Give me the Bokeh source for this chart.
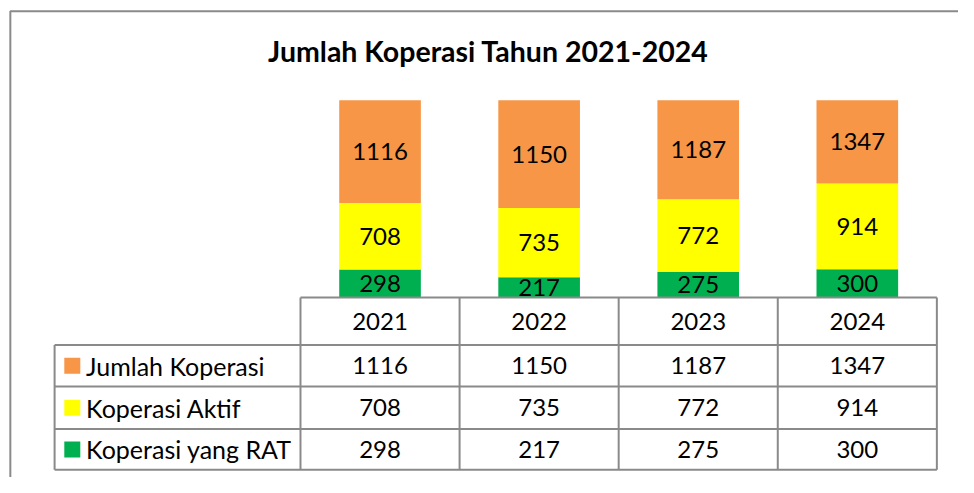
import numpy as np
from bokeh.plotting import figure
from bokeh.models import Range1d, ColumnDataSource
from bokeh.core.properties import value
from bokeh.embed import file_html
from bokeh.resources import INLINE

# ---- data ----
title_text = "Jumlah Koperasi Tahun 2021-2024"
years = ["2021", "2022", "2023", "2024"]
series_names = ["Jumlah Koperasi", "Koperasi Aktif", "Koperasi yang RAT"]
jumlah_koperasi = [1116, 1150, 1187, 1347]
koperasi_aktif = [708, 735, 772, 914]
koperasi_rat = [298, 217, 275, 300]
colors = ["#F79646", "#FFFF00", "#00B050"]   # jumlah, aktif, rat

# ---- layout (designed on a 974x493 sheet, scaled to the canvas) ----
W, H = 958, 477
SX, SY = W / 974, H / 493
FONT = value("Lato")
GRAY = "#8a8a8a"
COL_L, COL_R = 305, 952          # data columns of table / bar area
LEG_L = 55                        # left edge of legend column
PLOT_TOP, PLOT_BASE = 103, 307    # bar area (value axis top / zero)
ROWS = [307, 356, 399, 443, 485]  # table rules
Y_MAX = 2100                      # value axis clipped at top

n = len(years)
U = (COL_R - COL_L) * SX / n      # canvas px per category
x0_canvas = COL_L * SX + U / 2
xs = -x0_canvas / U
xe = xs + W / U
k = Y_MAX / ((PLOT_BASE - PLOT_TOP) * SY)
base_c = PLOT_BASE * SY
top_c = PLOT_TOP * SY

p = figure(width=W, height=H, output_backend="svg", toolbar_location=None,
           x_range=Range1d(xs, xe), y_range=Range1d(-(H - base_c) * k, Y_MAX + top_c * k),
           x_axis_location=None, y_axis_location=None, min_border=0)
p.extra_x_ranges = {"px": Range1d(0, 974)}
p.extra_y_ranges = {"px": Range1d(493, 0)}
p.grid.visible = False
p.outline_line_color = None
p.background_fill_color = "white"
p.border_fill_color = "white"

# ---- stacked bars (bottom -> top: RAT, Aktif, Jumlah) ----
xi = np.arange(n)
stack = [np.array(koperasi_rat), np.array(koperasi_aktif), np.array(jumlah_koperasi)]
stack_colors = [colors[2], colors[1], colors[0]]
bottom = np.zeros(n)
BAR_W = 83 * SX / U
for vals, col in zip(stack, stack_colors):
    top = bottom + vals
    b = np.minimum(bottom, Y_MAX)
    t = np.minimum(top, Y_MAX)
    src = ColumnDataSource(dict(x=xi, b=b, t=t, mid=(b + t) / 2, lab=[str(v) for v in vals]))
    p.vbar(x="x", bottom="b", top="t", width=BAR_W, source=src, fill_color=col, line_color=None)
    p.text(x="x", y="mid", text="lab", source=src, text_font=FONT, text_font_size="24px",
           text_align="center", text_baseline="middle", text_color="black")
    bottom = top

# ---- title ----
p.text(x=[496], y=[52], text=[title_text], x_range_name="px", y_range_name="px",
       text_font=FONT, text_font_size="28.5px", text_font_style="bold",
       text_align="center", text_baseline="middle", text_color="black")

# ---- outer frame ----
p.line(x=[10, 10, 974], y=[493, 11, 11], x_range_name="px", y_range_name="px",
       line_color=GRAY, line_width=2)

# ---- data table ----
right_edge = n - 0.5
# horizontal rules
p.segment(x0=[COL_L] + [LEG_L] * (len(ROWS) - 1), x1=[COL_R] * len(ROWS), y0=ROWS, y1=ROWS,
          x_range_name="px", y_range_name="px", line_color=GRAY, line_width=2)
# vertical rules between year columns
vx = list(np.arange(n + 1) - 0.5)
p.segment(x0=vx, x1=vx, y0=[ROWS[0]] * len(vx), y1=[ROWS[-1]] * len(vx),
          y_range_name="px", line_color=GRAY, line_width=2)
p.segment(x0=[LEG_L], x1=[LEG_L], y0=[ROWS[1]], y1=[ROWS[-1]],
          x_range_name="px", y_range_name="px", line_color=GRAY, line_width=2)

row_mid = [(ROWS[i] + ROWS[i + 1]) / 2 for i in range(len(ROWS) - 1)]
# header row
p.text(x=xi, y=[row_mid[0]] * n, text=years, y_range_name="px",
       text_font=FONT, text_font_size="24px", text_align="center",
       text_baseline="middle", text_color="black")
# value rows
for r, vals in enumerate([jumlah_koperasi, koperasi_aktif, koperasi_rat]):
    p.text(x=xi, y=[row_mid[r + 1]] * n, text=[str(v) for v in vals],
           y_range_name="px", text_font=FONT, text_font_size="24px",
           text_align="center", text_baseline="middle", text_color="black")

# legend keys in first column
p.scatter(x=[73] * 3, y=row_mid[1:], marker="square", size=16, fill_color=colors,
          line_color=None, x_range_name="px", y_range_name="px")
p.text(x=[87] * 3, y=row_mid[1:], text=series_names, x_range_name="px", y_range_name="px",
       text_font=FONT, text_font_size="25px", text_align="left",
       text_baseline="middle", text_color="black")

open("out.html", "w").write(file_html(p, INLINE))
